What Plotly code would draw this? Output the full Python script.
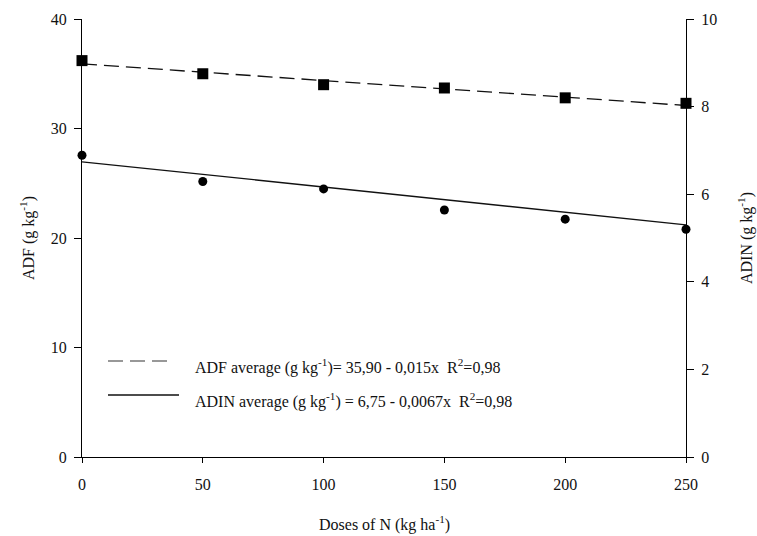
import plotly.graph_objects as go

doses = [0, 50, 100, 150, 200, 250]
adf_values = [36.2, 35.0, 34.0, 33.7, 32.8, 32.3]
adin_values = [6.89, 6.29, 6.12, 5.64, 5.43, 5.20]
adf_fit_x = [0, 250]
adf_fit_y = [35.9, 32.1]
adin_fit_x = [0, 250]
adin_fit_y = [6.74, 5.30]
x_ticks = [0, 50, 100, 150, 200, 250]
y_left_ticks = [0, 10, 20, 30, 40]
y_right_ticks = [0, 2, 4, 6, 8, 10]

FONT = "Liberation Serif"
W, H = 757, 536
L, R, T, B = 82, 71, 19, 79
pw, ph = W - L - R, H - T - B

def px(x):
    return (x - L) / pw

def py(y):
    return (H - B - y) / ph

fig = go.Figure()
fig.add_trace(go.Scatter(x=adf_fit_x, y=adf_fit_y, mode="lines",
                         line=dict(color="#111", width=1.3, dash="15px,7px"),
                         cliponaxis=False, showlegend=False))
fig.add_trace(go.Scatter(x=doses, y=adf_values, mode="markers",
                         marker=dict(symbol="square", size=11, color="black"),
                         cliponaxis=False, showlegend=False))
fig.add_trace(go.Scatter(x=adin_fit_x, y=adin_fit_y, mode="lines", yaxis="y2",
                         line=dict(color="#111", width=1.3),
                         cliponaxis=False, showlegend=False))
fig.add_trace(go.Scatter(x=doses, y=adin_values, mode="markers", yaxis="y2",
                         marker=dict(symbol="circle", size=9, color="black"),
                         cliponaxis=False, showlegend=False))

axis_common = dict(showgrid=False, zeroline=False, showline=True, linecolor="black",
                   linewidth=1.3, ticks="outside", tickcolor="black", tickwidth=1.2,
                   tickfont=dict(family=FONT, size=16, color="#111"))

fig.update_layout(
    width=W, height=H,
    margin=dict(l=L, r=R, t=T, b=B),
    paper_bgcolor="white", plot_bgcolor="white",
    font=dict(family=FONT, size=16, color="#111"),
    xaxis=dict(range=[0, 250], tickvals=x_ticks, ticklen=5, ticklabelstandoff=8, **axis_common),
    yaxis=dict(range=[0, 40], tickvals=y_left_ticks, ticklen=7, ticklabelstandoff=4, **axis_common),
    yaxis2=dict(range=[0, 10], tickvals=y_right_ticks, ticklen=7, overlaying="y", side="right",
                ticklabelstandoff=4, **axis_common),
)

annotations = [
    dict(text="Doses of N (kg ha<sup>-1</sup>)", x=0.5, y=py(523), xref="paper", yref="paper",
         showarrow=False, xanchor="center", yanchor="middle", font=dict(family=FONT, size=16)),
    dict(text="ADF (g kg<sup>-1</sup>)", x=px(27), y=0.5, xref="paper", yref="paper",
         showarrow=False, textangle=-90, xanchor="center", yanchor="middle", font=dict(family=FONT, size=16)),
    dict(text="ADIN (g kg<sup>-1</sup>)", x=px(745), y=0.5, xref="paper", yref="paper",
         showarrow=False, textangle=-90, xanchor="center", yanchor="middle", font=dict(family=FONT, size=16)),
    dict(text="ADF average (g kg<sup>-1</sup>)= 35,90 - 0,015x  R<sup>2</sup>=0,98", x=px(193), y=py(366),
         xref="paper", yref="paper", showarrow=False, xanchor="left", yanchor="middle",
         font=dict(family=FONT, size=16)),
    dict(text="ADIN average (g kg<sup>-1</sup>) = 6,75 - 0,0067x  R<sup>2</sup>=0,98", x=px(193), y=py(400),
         xref="paper", yref="paper", showarrow=False, xanchor="left", yanchor="middle",
         font=dict(family=FONT, size=16)),
]
fig.update_layout(annotations=annotations)

fig.add_shape(type="line", xref="paper", yref="paper", x0=px(108), x1=px(172), y0=py(361), y1=py(361),
              line=dict(color="#333", width=1.1, dash="15px,7px"))
fig.add_shape(type="line", xref="paper", yref="paper", x0=px(108), x1=px(179), y0=py(395), y1=py(395),
              line=dict(color="#111", width=1.4))

fig.write_html("out.html")
